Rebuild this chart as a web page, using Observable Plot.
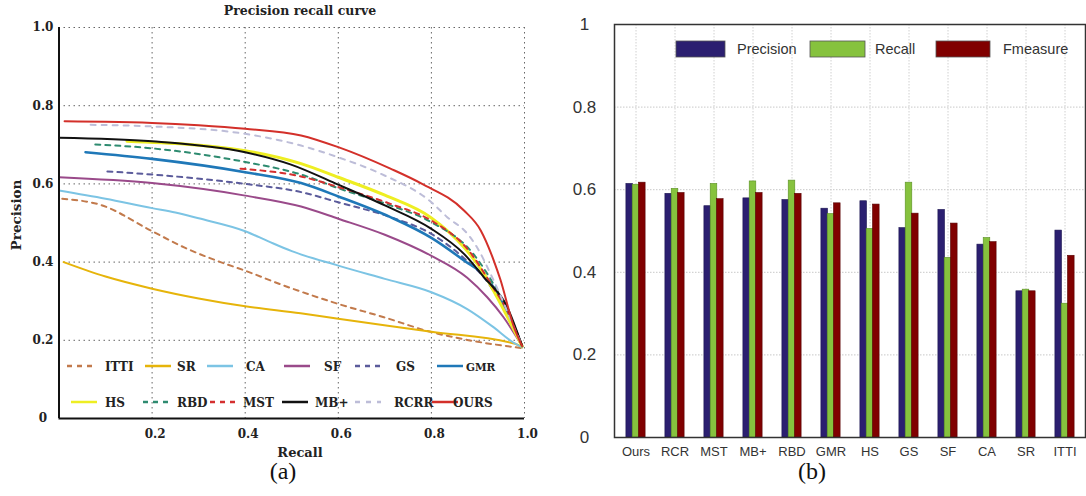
<!DOCTYPE html>
<html>
<head>
<meta charset="utf-8">
<script src="https://cdn.jsdelivr.net/npm/d3@7"></script>
<script src="https://cdn.jsdelivr.net/npm/@observablehq/plot@0.6"></script>
<style>
  html, body { margin: 0; padding: 0; background: #fff; }
  #wrap { position: relative; width: 1086px; height: 496px; overflow: hidden; background: #fff; }
  #wrap > svg { position: absolute; }
</style>
</head>
<body>
<div id="wrap"></div>
<script>
// ---------------- DATA: (a) precision-recall curves, [recall, precision] ----------------
const ITTI = [[0.007,0.562],[0.09,0.546],[0.2,0.479],[0.27,0.437],[0.347,0.400],[0.4,0.378],[0.483,0.340],[0.6,0.293],[0.698,0.259],[0.8,0.221],[0.877,0.201],[0.995,0.180]];
const SR   = [[0.01,0.400],[0.1,0.363],[0.2,0.332],[0.3,0.307],[0.4,0.287],[0.519,0.269],[0.6,0.255],[0.8,0.222],[0.98,0.191],[0.995,0.182]];
const CA   = [[0.0,0.583],[0.1,0.562],[0.2,0.538],[0.25,0.527],[0.3,0.512],[0.4,0.479],[0.45,0.453],[0.5,0.428],[0.6,0.391],[0.7,0.357],[0.8,0.323],[0.877,0.280],[0.934,0.233],[0.975,0.195],[0.995,0.182]];
const SF   = [[0.0,0.617],[0.2,0.602],[0.4,0.570],[0.52,0.542],[0.6,0.511],[0.7,0.470],[0.8,0.416],[0.877,0.360],[0.92,0.310],[0.955,0.259],[0.995,0.185]];
const GS   = [[0.104,0.632],[0.2,0.624],[0.4,0.600],[0.52,0.579],[0.6,0.553],[0.712,0.515],[0.8,0.472],[0.87,0.410],[0.92,0.350],[0.96,0.270],[0.995,0.185]];
const GMR  = [[0.057,0.681],[0.2,0.664],[0.4,0.630],[0.52,0.602],[0.6,0.568],[0.712,0.515],[0.8,0.462],[0.87,0.404],[0.92,0.358],[0.96,0.280],[0.995,0.185]];
const HS   = [[0.146,0.709],[0.4,0.685],[0.52,0.652],[0.6,0.617],[0.7,0.571],[0.8,0.513],[0.87,0.438],[0.913,0.370],[0.95,0.290],[0.995,0.185]];
const RBD  = [[0.078,0.701],[0.2,0.691],[0.4,0.656],[0.52,0.624],[0.6,0.589],[0.712,0.545],[0.8,0.502],[0.89,0.421],[0.94,0.330],[0.97,0.260],[0.995,0.185]];
const MST  = [[0.39,0.639],[0.52,0.619],[0.6,0.592],[0.712,0.549],[0.8,0.506],[0.88,0.430],[0.93,0.340],[0.97,0.260],[0.995,0.185]];
const MBP  = [[0.0,0.718],[0.2,0.709],[0.4,0.681],[0.497,0.650],[0.6,0.598],[0.7,0.545],[0.8,0.485],[0.87,0.421],[0.913,0.361],[0.963,0.285],[0.995,0.185]];
const RCRR = [[0.068,0.751],[0.2,0.747],[0.4,0.728],[0.52,0.698],[0.6,0.668],[0.691,0.626],[0.8,0.553],[0.834,0.515],[0.877,0.473],[0.898,0.438],[0.927,0.370],[0.95,0.310],[0.975,0.240],[0.995,0.185]];
const OURS = [[0.012,0.760],[0.1,0.759],[0.2,0.756],[0.3,0.750],[0.4,0.741],[0.52,0.724],[0.6,0.694],[0.712,0.639],[0.78,0.600],[0.87,0.532],[0.906,0.481],[0.934,0.404],[0.948,0.356],[0.977,0.235],[0.995,0.185]];

const seriesNames  = ["ITTI","SR","CA","SF","GS","GMR","HS","RBD","MST","MB+","RCRR","OURS"];
const seriesData   = [ITTI, SR, CA, SF, GS, GMR, HS, RBD, MST, MBP, RCRR, OURS];
const seriesColors = ["#c27a4c","#e6b40a","#7cc4e4","#9a4a8a","#5b5b9b","#1f78b8","#eeee22","#2e8b70","#d42f2f","#111111","#bdbdd8","#d3302a"];
const seriesDash   = ["5,5",null,null,null,"5,5",null,null,"5,5","5,5",null,"5,6",null];
const seriesWidth  = [2,2,2,2,2,2.6,3,2,2,2,2,2];

const prTicksX = [0.2,0.4,0.6,0.8,1.0];
const prTicksY = [0,0.2,0.4,0.6,0.8,1.0];

// ---------------- DATA: (b) bar chart ----------------
const methods   = ["Ours","RCR","MST","MB+","RBD","GMR","HS","GS","SF","CA","SR","ITTI"];
const precision = [0.614,0.590,0.560,0.579,0.575,0.554,0.572,0.507,0.551,0.467,0.354,0.501];
const recall    = [0.612,0.602,0.614,0.620,0.622,0.541,0.505,0.617,0.435,0.483,0.358,0.324];
const fmeasure  = [0.617,0.592,0.577,0.592,0.590,0.567,0.564,0.542,0.518,0.473,0.354,0.440];
const barMetrics = ["Precision","Recall","Fmeasure"];
const barColors  = ["#2b1f70","#86c23e","#800000"];
const barStrokes = ["#1b1450","#5a8f25","#560000"];
const barTicksY  = [0,0.2,0.4,0.6,0.8,1];

const wrap = document.getElementById("wrap");

// ---------------- (a) ----------------
const lineMarks = seriesData.map((d, i) => Plot.line(d, {
  x: d => d[0], y: d => d[1],
  stroke: seriesColors[i], strokeWidth: seriesWidth[i],
  strokeDasharray: seriesDash[i] || undefined,
  curve: "monotone-x"
}));

const left = Plot.plot({
  width: 545, height: 496,
  marginLeft: 58.5, marginRight: 21, marginTop: 27, marginBottom: 78,
  x: {domain: [0, 1]},
  y: {domain: [0, 1]},
  style: {background: "transparent", fontFamily: "DejaVu Serif", fontWeight: "bold", fontSize: "12px", color: "#222", overflow: "visible"},
  marks: [
    Plot.gridX(prTicksX, {stroke: "#666", strokeOpacity: 1, strokeDasharray: "1.5,3.5"}),
    Plot.gridY(prTicksY.filter(d => d > 0), {stroke: "#666", strokeOpacity: 1, strokeDasharray: "1.5,3.5"}),
    ...lineMarks,
    Plot.ruleX([0], {stroke: "#111", strokeWidth: 2}),
    Plot.ruleY([0], {stroke: "#111", strokeWidth: 2}),
    Plot.axisX({ticks: prTicksX, tickSize: 0, tickPadding: 11, dx: 3, tickFormat: d3.format(".1f"), label: null}),
    Plot.axisY({ticks: prTicksY, tickSize: 0, tickPadding: 16, textAnchor: "middle", tickFormat: d => d === 0 ? "0" : d.toFixed(1), label: null})
  ]
});
left.style.left = "0px"; left.style.top = "0px";
wrap.appendChild(left);

// ---------------- (b) ----------------
const bw = 6.3;
const barMarks = [precision, recall, fmeasure].map((vals, k) => Plot.barY(methods.map((m, i) => ({m, v: vals[i]})), {
  x: "m", y: "v", fill: barColors[k], stroke: barStrokes[k], strokeWidth: 0.6,
  insetLeft: 16.2, insetRight: 16.2, dx: (k - 1) * bw
}));

const right = Plot.plot({
  width: 546, height: 496,
  marginLeft: 74, marginRight: 1, marginTop: 24, marginBottom: 59,
  x: {domain: methods, padding: 0},
  y: {domain: [0, 1]},
  style: {background: "transparent", fontFamily: "Liberation Sans, Arial, sans-serif", fontSize: "13px", color: "#333", overflow: "visible"},
  marks: [
    Plot.gridY([0.2,0.4,0.6,0.8], {stroke: "#c8c8c8", strokeOpacity: 1, strokeDasharray: "1.5,1.5"}),
    Plot.gridX(methods, {stroke: "#d0d0d0", strokeOpacity: 1, strokeDasharray: "1.5,1.5"}),
    ...barMarks,
    Plot.frame({stroke: "#333", strokeWidth: 1.5}),
    Plot.axisX({tickSize: 0, tickPadding: 9, label: null}),
    Plot.axisY({ticks: barTicksY, tickSize: 0, tickPadding: 30, textAnchor: "middle", fontSize: 17, tickFormat: d => (d === 0 || d === 1) ? String(d) : d.toFixed(1), label: null})
  ]
});
right.style.left = "540px"; right.style.top = "0px";
wrap.appendChild(right);

// ---------------- overlay: titles, legends, captions ----------------
const ov = d3.select(wrap).append("svg")
  .attr("width", 1086).attr("height", 496)
  .style("position", "absolute").style("left", "0px").style("top", "0px")
  .style("pointer-events", "none");

const serifBold = {"font-family": "DejaVu Serif", "font-weight": "bold", "fill": "#222"};
function txt(x, y, s, attrs) {
  const t = ov.append("text").attr("x", x).attr("y", y).text(s);
  Object.entries(attrs || {}).forEach(([k, v]) => t.attr(k, v));
  return t;
}
txt(300, 15, "Precision recall curve", {...serifBold, "font-size": "12.5px", "text-anchor": "middle"});
txt(300, 457, "Recall", {...serifBold, "font-size": "13px", "text-anchor": "middle"});
txt(0, 0, "Precision", {...serifBold, "font-size": "13.5px", "text-anchor": "middle", transform: "translate(21,215) rotate(-90)"});
txt(283, 479, "(a)", {"font-family": "Liberation Serif", "font-size": "24px", "text-anchor": "middle", fill: "#111"});
txt(812, 479, "(b)", {"font-family": "Liberation Serif", "font-size": "24px", "text-anchor": "middle", fill: "#111"});

// legend (a)
const legLineX = [[67,145,207,284,355,437],[71,143,210,282,355,432]];
const legTextX = [[105,177,246,324,396,466],[105,177,243,315,394,453]];
const legY = [366, 402];
seriesNames.forEach((name, i) => {
  const row = i < 6 ? 0 : 1, col = i % 6;
  const x0 = legLineX[row][col];
  ov.append("line").attr("x1", x0).attr("x2", x0 + 26).attr("y1", legY[row]).attr("y2", legY[row])
    .attr("stroke", seriesColors[i]).attr("stroke-width", 2.5)
    .attr("stroke-dasharray", seriesDash[i] || null);
  txt(legTextX[row][col], legY[row] + 4.5, name, {...serifBold, "font-size": name === "GMR" ? "10.5px" : "12px"});
});

// legend (b)
const legRect = [[676, 49], [810, 55], [936, 54]];
const legBText = [737, 875, 1003];
barMetrics.forEach((m, k) => {
  ov.append("rect").attr("x", legRect[k][0]).attr("y", 41).attr("width", legRect[k][1]).attr("height", 16)
    .attr("fill", barColors[k]).attr("stroke", "#555").attr("stroke-width", 0.8);
  txt(legBText[k], 54, m, {"font-family": "Liberation Sans, Arial, sans-serif", "font-size": "14.5px", fill: "#333"});
});
</script>
</body>
</html>
